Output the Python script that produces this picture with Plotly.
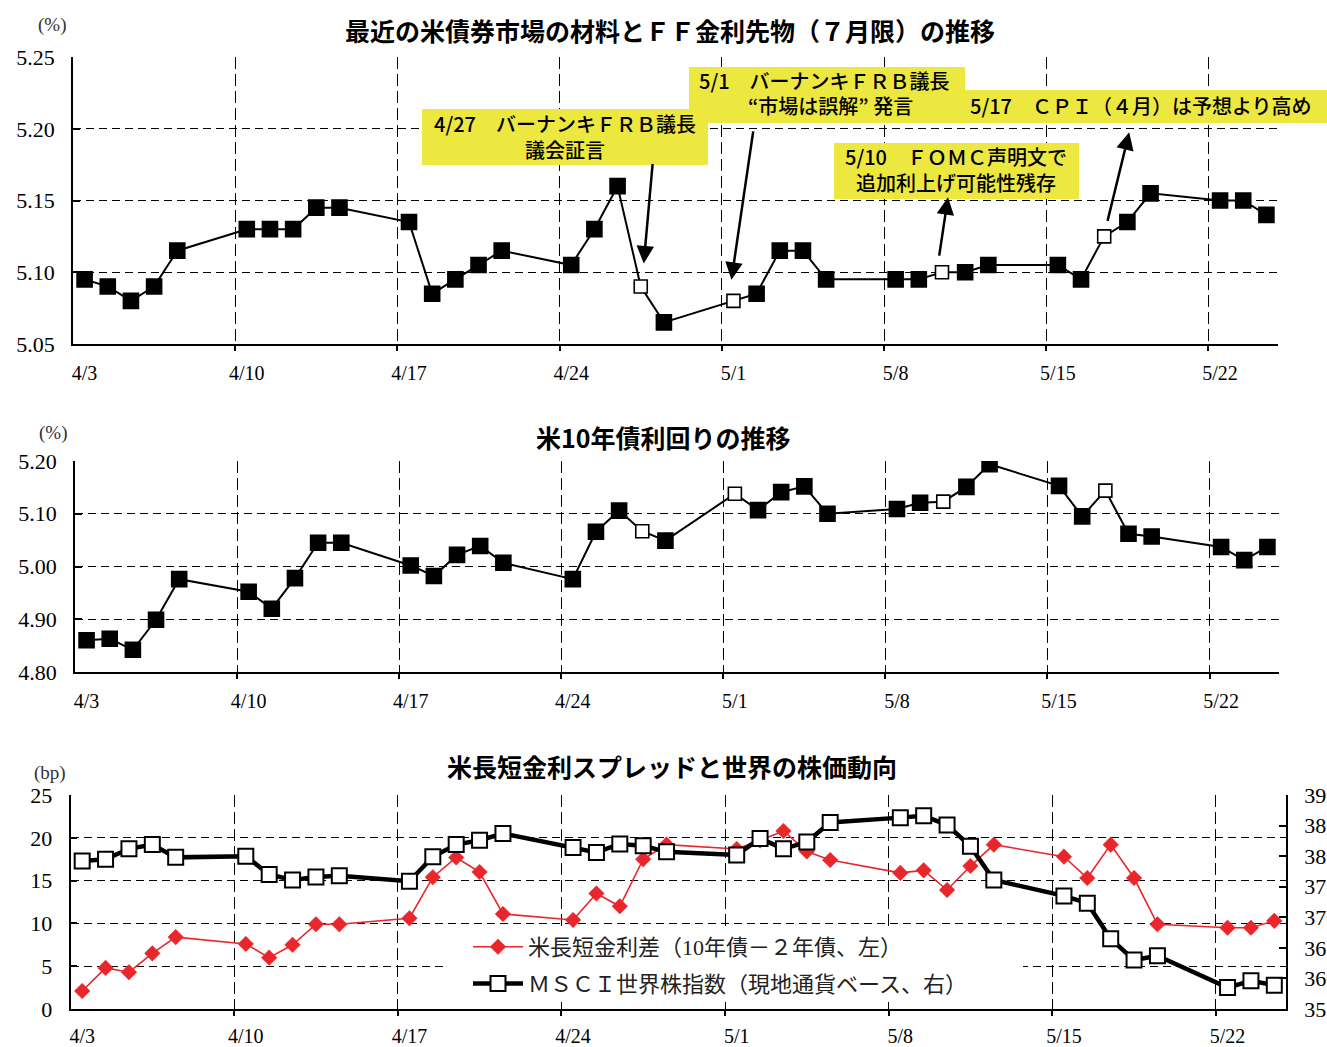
import plotly.graph_objects as go

# ---------------- data ----------------
dates = [
    "2006-04-03", "2006-04-04", "2006-04-05", "2006-04-06", "2006-04-07",
    "2006-04-10", "2006-04-11", "2006-04-12", "2006-04-13", "2006-04-14",
    "2006-04-17", "2006-04-18", "2006-04-19", "2006-04-20", "2006-04-21",
    "2006-04-24", "2006-04-25", "2006-04-26", "2006-04-27", "2006-04-28",
    "2006-05-01", "2006-05-02", "2006-05-03", "2006-05-04", "2006-05-05",
    "2006-05-08", "2006-05-09", "2006-05-10", "2006-05-11", "2006-05-12",
    "2006-05-15", "2006-05-16", "2006-05-17", "2006-05-18", "2006-05-19",
    "2006-05-22", "2006-05-23", "2006-05-24",
]

ff_futures = [
    5.095, 5.090, 5.080, 5.090, 5.115,
    5.130, 5.130, 5.130, 5.145, 5.145,
    5.135, 5.085, 5.095, 5.105, 5.115,
    5.105, 5.130, 5.160, 5.090, 5.065,
    5.080, 5.085, 5.115, 5.115, 5.095,
    5.095, 5.095, 5.100, 5.100, 5.105,
    5.105, 5.095, 5.125, 5.135, 5.155,
    5.150, 5.150, 5.140,
]

us10y = [
    4.860, 4.863, 4.842, 4.899, 4.976,
    4.952, 4.920, 4.978, 5.045, 5.045,
    5.002, 4.982, 5.022, 5.039, 5.007,
    4.976, 5.066, 5.106, 5.067, 5.049,
    5.138, 5.107, 5.141, 5.152, 5.100,
    5.109, 5.121, 5.123, 5.151, 5.194,
    5.153, 5.095, 5.144, 5.062, 5.057,
    5.037, 5.012, 5.037,
]

spread_bp = [
    2.1, 4.8, 4.3, 6.5, 8.4,
    7.6, 6.0, 7.5, 9.9, 9.9,
    10.6, 15.4, 17.7, 16.0, 11.1,
    10.4, 13.5, 12.0, 17.5, 19.2,
    18.7, 19.7, 20.8, 18.4, 17.4,
    15.9, 16.2, 13.9, 16.7, 19.2,
    17.8, 15.3, 19.2, 15.3, 9.9,
    9.5, 9.5, 10.3,
]

msci = [
    379.2, 379.5, 381.2, 381.9, 379.8,
    380.0, 377.0, 376.1, 376.6, 376.8,
    375.9, 379.9, 381.9, 382.6, 383.7,
    381.4, 380.6, 382.0, 381.7, 380.7,
    380.2, 382.9, 381.2, 382.3, 385.5,
    386.3, 386.6, 385.1, 381.6, 376.1,
    373.5, 372.3, 366.5, 363.0, 363.7,
    358.5, 359.6, 358.9,
]

event_dates = ["2006-04-27", "2006-05-01", "2006-05-10", "2006-05-17"]

tick_dates = ["2006-04-03", "2006-04-10", "2006-04-17", "2006-04-24",
              "2006-05-01", "2006-05-08", "2006-05-15", "2006-05-22"]
tick_labels = ["4/3", "4/10", "4/17", "4/24", "5/1", "5/8", "5/15", "5/22"]
week_bounds = ["2006-04-09 12:00", "2006-04-16 12:00", "2006-04-23 12:00",
               "2006-04-30 12:00", "2006-05-07 12:00", "2006-05-14 12:00",
               "2006-05-21 12:00"]

y1_ticks = [5.05, 5.10, 5.15, 5.20, 5.25]
y1_labels = ["5.05", "5.10", "5.15", "5.20", "5.25"]
y2_ticks = [4.80, 4.90, 5.00, 5.10, 5.20]
y2_labels = ["4.80", "4.90", "5.00", "5.10", "5.20"]
y3_ticks = [0, 5, 10, 15, 20, 25]
y3_labels = ["0", "5", "10", "15", "20", "25"]
y4_ticks = [355, 360, 365, 370, 375, 380, 385, 390]
y4_labels = ["355", "360", "365", "370", "375", "380", "385", "390"]

title1 = "最近の米債券市場の材料とＦＦ金利先物（７月限）の推移"
title2 = "米10年債利回りの推移"
title3 = "米長短金利スプレッドと世界の株価動向"
name_spread = "米長短金利差（10年債－２年債、左）"
name_msci = "ＭＳＣＩ世界株指数（現地通貨ベース、右）"

# ---------------- layout helpers ----------------
W, H = 1327, 1047


def px(x):
    return x / W


def py(y):
    return 1 - y / H


SERIF = "Liberation Serif, Noto Sans CJK JP"
SANS = "Noto Sans CJK JP"
YELLOW = "#ede83f"
RED = "#e9262b"

hollow = [d in event_dates for d in dates]
fill_cols = ["white" if h else "black" for h in hollow]
sizes = [13 if h else 15 for h in hollow]

fig = go.Figure()

fig.add_trace(go.Scatter(
    x=dates, y=ff_futures, mode="lines+markers", xaxis="x", yaxis="y",
    line=dict(color="black", width=2),
    marker=dict(symbol="square", size=sizes, color=fill_cols, opacity=1,
                line=dict(color="black", width=1.6)),
    showlegend=False, hoverinfo="skip"))

fig.add_trace(go.Scatter(
    x=dates, y=us10y, mode="lines+markers", xaxis="x2", yaxis="y2",
    line=dict(color="black", width=2),
    marker=dict(symbol="square", size=sizes, color=fill_cols, opacity=1,
                line=dict(color="black", width=1.6)),
    showlegend=False, hoverinfo="skip"))

fig.add_trace(go.Scatter(
    x=dates, y=spread_bp, mode="lines+markers", xaxis="x3", yaxis="y3",
    name=name_spread, legendgroup="a",
    line=dict(color=RED, width=1.6),
    marker=dict(symbol="diamond", size=12, color=RED, opacity=1,
                line=dict(color=RED, width=0.5)),
    hoverinfo="skip"))

fig.add_trace(go.Scatter(
    x=dates, y=msci, mode="lines+markers", xaxis="x3", yaxis="y4",
    name=name_msci, legendgroup="b",
    line=dict(color="black", width=4.5),
    marker=dict(symbol="square", size=15, color="white", opacity=1,
                line=dict(color="black", width=2)),
    hoverinfo="skip"))


def xax(l, r, anchor, standoff=10):
    return dict(
        domain=[px(l), px(r)], anchor=anchor, type="date", automargin=False,
        range=["2006-04-02 12:00", "2006-05-24 12:00"],
        tickmode="array", tickvals=tick_dates, ticktext=tick_labels,
        ticks="", showgrid=False, zeroline=False,
        showline=True, linecolor="black", linewidth=2,
        tickfont=dict(family=SERIF, size=20, color="black"),
        ticklabelstandoff=standoff,
        minor=dict(tickmode="array", tickvals=week_bounds, showgrid=True,
                   gridcolor="black", gridwidth=1, griddash="12px,5px",
                   ticks="outside", ticklen=5, tickcolor="black", tickwidth=1.5),
    )


def yax(top, bot, anchor, rng, tv, tt, grid=True, side="left", overlaying=None):
    d = dict(
        domain=[py(bot), py(top)], anchor=anchor, range=rng, automargin=False,
        tickmode="array", tickvals=tv, ticktext=tt,
        showgrid=grid, gridcolor="black", gridwidth=1, griddash="8px,5px",
        zeroline=False, showline=True, linecolor="black", linewidth=1.5,
        ticks="inside", ticklen=7, tickcolor="black", tickwidth=1.5,
        tickfont=dict(family=SERIF, size=22, color="black"),
        ticklabelstandoff=12, side=side,
    )
    if overlaying:
        d["overlaying"] = overlaying
        d.pop("domain")
    return d


fig.update_layout(
    width=W, height=H, margin=dict(l=0, r=0, t=0, b=0, autoexpand=False),
    paper_bgcolor="white", plot_bgcolor="white",
    xaxis=xax(73, 1278, "y"),
    yaxis=yax(57, 344, "x", [5.0499, 5.2501], y1_ticks, y1_labels),
    xaxis2=xax(75, 1279, "y2"),
    yaxis2=yax(461, 672, "x2", [4.7999, 5.2001], y2_ticks, y2_labels),
    xaxis3=xax(70.5, 1286, "y3", standoff=8),
    yaxis3=yax(795, 1009, "x3", [-0.001, 25.001], y3_ticks, y3_labels),
    yaxis4=yax(795, 1009, "x3", [354.999, 390.001], y4_ticks, y4_labels,
               grid=False, side="right", overlaying="y3"),
    legend=dict(x=px(468), y=py(926), xanchor="left", yanchor="top",
                bgcolor="rgba(0,0,0,0)", traceorder="grouped", tracegroupgap=5,
                itemwidth=50,
                font=dict(family=SERIF, size=22, color="#222")),
    showlegend=True,
)

# white patch behind the legend (hides the gridline there)
fig.add_shape(type="rect", xref="paper", yref="paper", layer="above",
              x0=px(446), x1=px(1023), y0=py(1002), y1=py(928),
              fillcolor="white", line=dict(width=0))

# yellow boxes
for (x0, y0, x1, y1) in [(422, 109, 708, 165), (689, 67, 965, 90),
                         (689, 90, 1327, 123), (834, 143, 1079, 199)]:
    fig.add_shape(type="rect", xref="paper", yref="paper", layer="above",
                  x0=px(x0), x1=px(x1), y0=py(y1), y1=py(y0),
                  fillcolor=YELLOW, line=dict(width=0))

box_font = dict(family=SANS, size=20, color="black", weight=500)
texts = [
    ("4/27　バーナンキＦＲＢ議長<br>議会証言", 565, 136, "center"),
    ("5/1　バーナンキＦＲＢ議長", 697, 81, "left"),
    ("“市場は誤解” 発言", 830, 106, "center"),
    ("5/17　ＣＰＩ（４月）は予想より高め", 968, 106, "left"),
    ("5/10　ＦＯＭＣ声明文で<br>追加利上げ可能性残存", 956, 170, "center"),
]
for t, x, y, anc in texts:
    fig.add_annotation(text=t, xref="paper", yref="paper", x=px(x), y=py(y),
                       xanchor=anc, yanchor="middle", align="center",
                       showarrow=False, font=box_font)

# arrows pointing to / from event days
arrow_geo = [(3, 23, 9, -101), (-2, 21, 22, -150), (6, 75, -9, 60), (25, 104, -22, 90)]
for d, (xs, ys, ax, ay) in zip(event_dates, arrow_geo):
    fig.add_annotation(x=d, y=ff_futures[dates.index(d)], xref="x", yref="y",
                       text="", showarrow=True, arrowhead=2, arrowsize=1.4,
                       arrowwidth=2.5, arrowcolor="black", ax=ax, ay=ay,
                       xshift=xs, yshift=ys)

# titles & unit labels
for t, x, y in [(title1, 670, 30), (title2, 664, 437), (title3, 672, 766)]:
    fig.add_annotation(text=t, xref="paper", yref="paper", x=px(x), y=py(y),
                       xanchor="center", yanchor="middle", showarrow=False,
                       font=dict(family=SANS, size=25, color="black", weight="bold"))
for t, x, y in [("(%)", 52, 25), ("(%)", 53, 433), ("(bp)", 50, 773)]:
    fig.add_annotation(text=t, xref="paper", yref="paper", x=px(x), y=py(y),
                       xanchor="center", yanchor="middle", showarrow=False,
                       font=dict(family=SERIF, size=19, color="#333"))

fig.write_html("out.html")
